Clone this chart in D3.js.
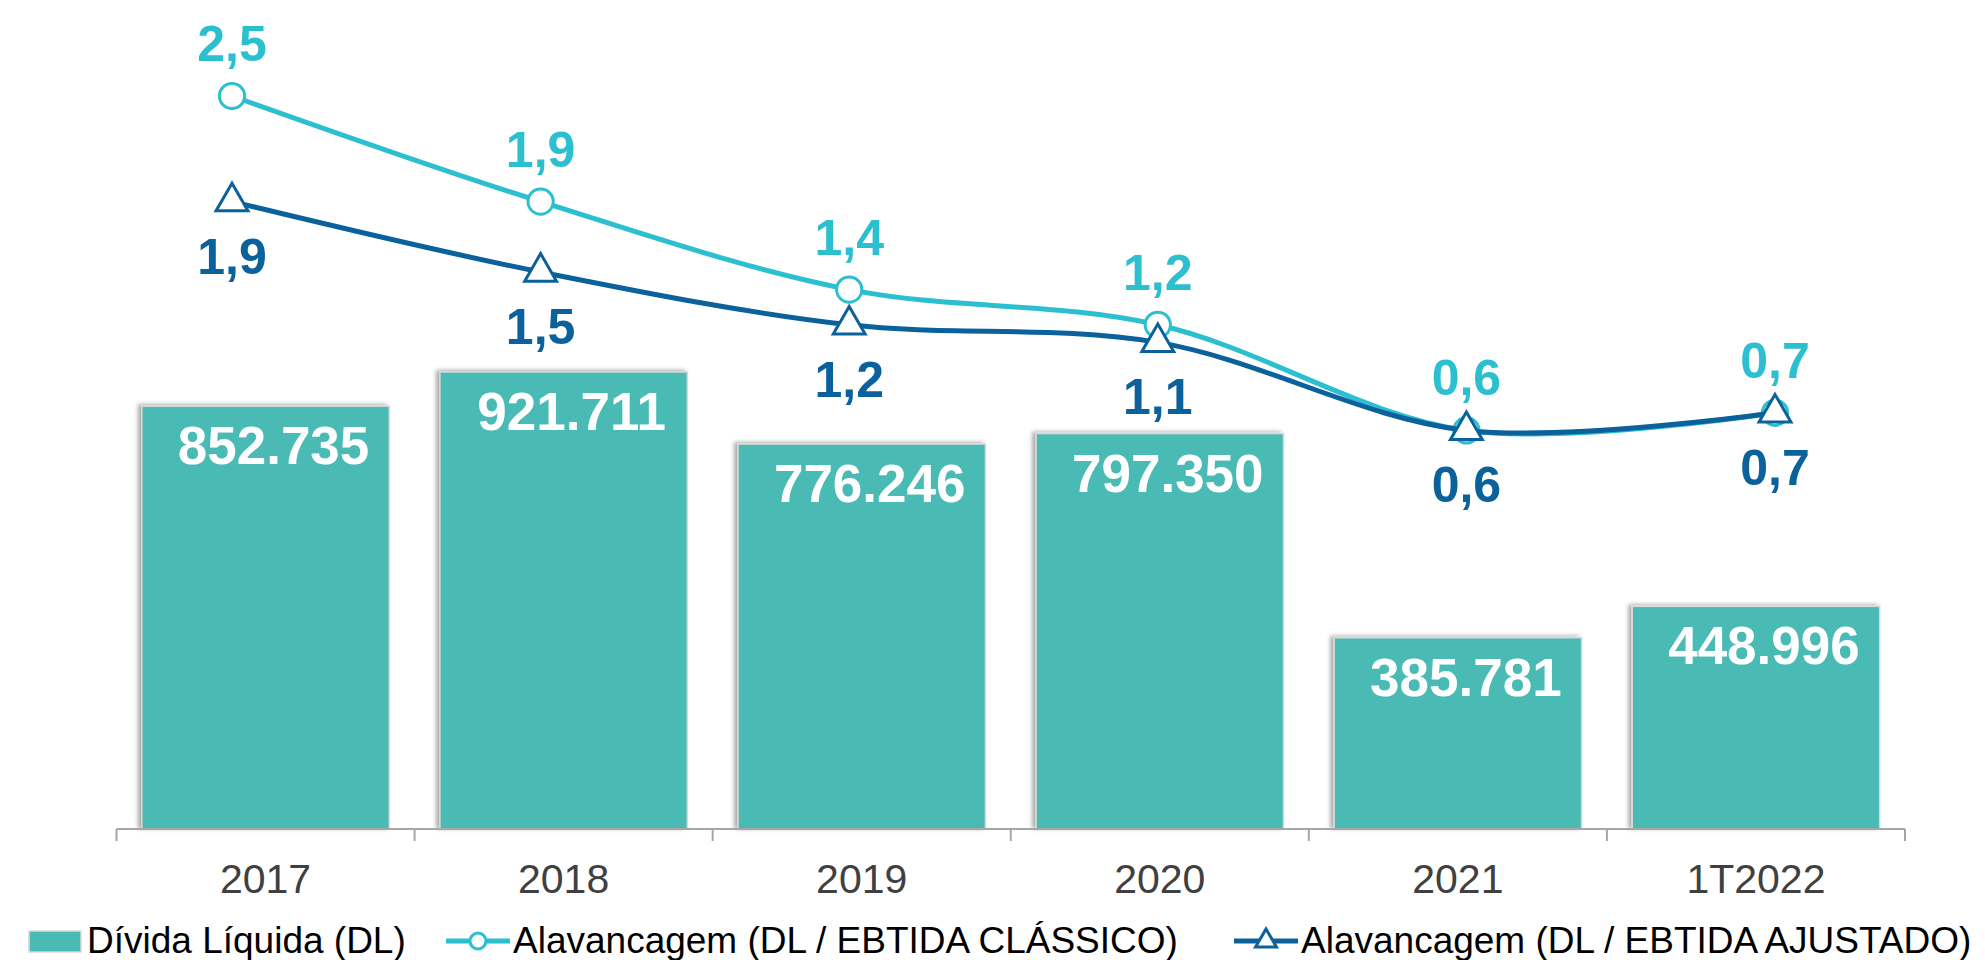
<!DOCTYPE html>
<html>
<head>
<meta charset="utf-8">
<script src="https://cdn.jsdelivr.net/npm/d3@7"></script>
<style>
  body { margin: 0; background: #fff; }
  text { font-family: "Liberation Sans", Arial, sans-serif; }
</style>
</head>
<body>
<div class="chart"></div>
<script>
var svgWidth = 1985;
var svgHeight = 960;

// data
var categories = ["2017", "2018", "2019", "2020", "2021", "1T2022"];
var dividaLiquida = [852735, 921711, 776246, 797350, 385781, 448996];
var alavClassico = [2.5, 1.9, 1.4, 1.2, 0.6, 0.7];
var alavAjustado = [1.9, 1.5, 1.2, 1.1, 0.6, 0.7];
var legendLabels = ["Dívida Líquida (DL)", "Alavancagem (DL / EBTIDA CLÁSSICO)", "Alavancagem (DL / EBTIDA AJUSTADO)"];

var barColor = "#4abbb4";
var classicColor = "#2bbfcf";
var adjColor = "#0b619c";

var axisY = 829;

var svg = d3.select(".chart")
  .append("svg")
  .attr("width", svgWidth)
  .attr("height", svgHeight);

var defs = svg.append("defs");
var shadow = defs.append("filter")
  .attr("id", "barShadow")
  .attr("x", "-10%").attr("y", "-10%")
  .attr("width", "120%").attr("height", "120%");
shadow.append("feDropShadow")
  .attr("dx", -3).attr("dy", -1)
  .attr("stdDeviation", 2)
  .attr("flood-color", "#000")
  .attr("flood-opacity", 0.35);

// scales
var xBand = d3.scaleBand()
  .domain(categories)
  .range([116.5, 1905])
  .paddingInner(0.17)
  .paddingOuter(0.085);

var xAxisScale = d3.scaleBand()
  .domain(categories)
  .range([116.5, 1905]);

var yBar = d3.scaleLinear()
  .domain([0, 1600000])
  .range([axisY, 35.6]);

var xLine = d3.scalePoint()
  .domain(categories)
  .range([232, 1775]);

var yLine = d3.scaleLinear()
  .domain([0, 3])
  .range([536, 8]);

// bars
var barsGroup = svg.append("g");
barsGroup.selectAll("rect")
  .data(dividaLiquida)
  .enter()
  .append("rect")
  .attr("x", (d, i) => xBand(categories[i]))
  .attr("y", d => yBar(d))
  .attr("width", xBand.bandwidth())
  .attr("height", d => axisY - yBar(d))
  .attr("fill", barColor)
  .attr("stroke", "#d9d9d9")
  .attr("stroke-width", 1.5)
  .attr("filter", "url(#barShadow)");

var fmtThousands = d3.formatLocale({ decimal: ",", thousands: ".", grouping: [3], currency: ["R$", ""] }).format(",d");

barsGroup.selectAll("text")
  .data(dividaLiquida)
  .enter()
  .append("text")
  .attr("x", (d, i) => xBand(categories[i]) + xBand.bandwidth() / 2 + 8)
  .attr("y", d => yBar(d) + 58)
  .attr("text-anchor", "middle")
  .attr("font-size", 53)
  .attr("font-weight", "bold")
  .attr("fill", "#fff")
  .text(d => fmtThousands(d));

// x axis
var xAxis = svg.append("g")
  .attr("transform", `translate(0, ${axisY})`);
xAxis.append("line")
  .attr("x1", xAxisScale.range()[0])
  .attr("x2", xAxisScale.range()[1])
  .attr("stroke", "#a6a6a6")
  .attr("stroke-width", 2);
var tickPos = categories.map(c => xAxisScale(c)).concat([xAxisScale.range()[1]]);
xAxis.selectAll("line.tick")
  .data(tickPos)
  .enter()
  .append("line")
  .attr("class", "tick")
  .attr("x1", d => d).attr("x2", d => d)
  .attr("y1", 0).attr("y2", 12)
  .attr("stroke", "#a6a6a6")
  .attr("stroke-width", 2);
xAxis.selectAll("text")
  .data(categories)
  .enter()
  .append("text")
  .attr("x", d => xAxisScale(d) + xAxisScale.bandwidth() / 2)
  .attr("y", 64)
  .attr("text-anchor", "middle")
  .attr("font-size", 41)
  .attr("fill", "#404040")
  .text(d => d);

// lines
var fmtRatio = v => d3.format(".1f")(v).replace(".", ",");

function drawSeries(values, color, symbolType, labelDy) {
  var line = d3.line()
    .x((d, i) => xLine(categories[i]))
    .y(d => yLine(d))
    .curve(d3.curveCatmullRom.alpha(0.5));

  var g = svg.append("g");
  g.append("path")
    .datum(values)
    .attr("d", line)
    .attr("fill", "none")
    .attr("stroke", color)
    .attr("stroke-width", 5);

  g.selectAll("path.marker")
    .data(values)
    .enter()
    .append("path")
    .attr("class", "marker")
    .attr("transform", (d, i) => `translate(${xLine(categories[i])}, ${yLine(d)})`)
    .attr("d", d3.symbol().type(symbolType).size(symbolType === d3.symbolCircle ? 500 : 440))
    .attr("fill", "#fff")
    .attr("stroke", color)
    .attr("stroke-width", 3);

  g.selectAll("text")
    .data(values)
    .enter()
    .append("text")
    .attr("x", (d, i) => xLine(categories[i]))
    .attr("y", d => yLine(d) + labelDy)
    .attr("text-anchor", "middle")
    .attr("font-size", 50)
    .attr("font-weight", "bold")
    .attr("fill", color)
    .text(d => fmtRatio(d));
}

drawSeries(alavClassico, classicColor, d3.symbolCircle, -35);
drawSeries(alavAjustado, adjColor, d3.symbolTriangle, 72);

// legend
var legend = svg.append("g").attr("transform", "translate(0, 941)");
var legendX = [29, 446, 1234];

legend.append("rect")
  .attr("x", legendX[0]).attr("y", -10)
  .attr("width", 52).attr("height", 21)
  .attr("fill", barColor)
  .attr("stroke", "#d9d9d9")
  .attr("stroke-width", 1.5);

[[classicColor, d3.symbolCircle, 200], [adjColor, d3.symbolTriangle, 190]].forEach(function (m, i) {
  var x0 = legendX[i + 1];
  legend.append("line")
    .attr("x1", x0).attr("x2", x0 + 64)
    .attr("stroke", m[0]).attr("stroke-width", 5);
  legend.append("path")
    .attr("transform", `translate(${x0 + 32}, 0)`)
    .attr("d", d3.symbol().type(m[1]).size(m[2]))
    .attr("fill", "#fff")
    .attr("stroke", m[0])
    .attr("stroke-width", 3);
});

legend.selectAll("text")
  .data(legendLabels)
  .enter()
  .append("text")
  .attr("x", (d, i) => legendX[i] + (i === 0 ? 58 : 67))
  .attr("y", 12)
  .attr("font-size", 37)
  .attr("fill", "#000")
  .text(d => d);
</script>
</body>
</html>
